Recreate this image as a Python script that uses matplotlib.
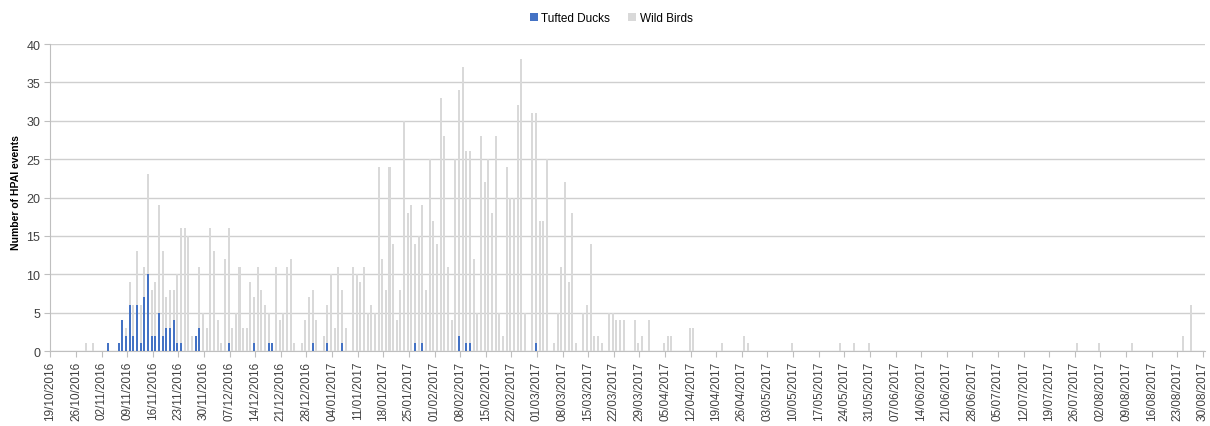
import numpy as np
import pandas as pd
import matplotlib
matplotlib.use("Agg")
from matplotlib import pyplot as plt

# one value per day, starting 19/10/2016, written one week per row
start_date = "2016-10-19"

tufted_ducks = [
    0, 0, 0, 0, 0, 0, 0,
    0, 0, 0, 0, 0, 0, 0,
    0, 0, 1, 0, 0, 1, 4,
    2, 6, 2, 6, 1, 7, 10,
    2, 2, 5, 2, 3, 3, 4,
    1, 1, 0, 0, 0, 2, 3,
    0, 0, 0, 0, 0, 0, 0,
    1, 0, 0, 0, 0, 0, 0,
    1, 0, 0, 0, 1, 1, 0,
    0, 0, 0, 0, 0, 0, 0,
    0, 0, 1, 0, 0, 0, 1,
    0, 0, 0, 1, 0, 0, 0,
    0, 0, 0, 0, 0, 0, 0,
    0, 0, 0, 0, 0, 0, 0,
    0, 0, 1, 0, 1, 0, 0,
    0, 0, 0, 0, 0, 0, 0,
    2, 0, 1, 1, 0, 0, 0,
    0, 0, 0, 0, 0, 0, 0,
    0, 0, 0, 0, 0, 0, 0,
    1, 0, 0, 0, 0, 0, 0,
] + [0] * (25 * 7 + 1)

wild_birds = [
    1, 0, 0, 0, 0, 0, 0,
    0, 0, 0, 1, 0, 1, 0,
    0, 0, 0, 0, 0, 0, 0,
    1, 3, 4, 7, 5, 4, 13,
    6, 7, 14, 11, 4, 5, 4,
    9, 15, 16, 15, 2, 0, 8,
    5, 3, 16, 13, 4, 1, 12,
    15, 3, 5, 11, 3, 3, 9,
    6, 11, 8, 6, 4, 0, 11,
    4, 5, 11, 12, 1, 0, 1,
    4, 7, 7, 4, 0, 2, 5,
    10, 3, 11, 7, 3, 0, 11,
    10, 9, 11, 5, 6, 5, 24,
    12, 8, 24, 14, 4, 8, 30,
    18, 19, 13, 15, 18, 8, 25,
    17, 14, 33, 28, 11, 4, 25,
    32, 37, 25, 25, 12, 5, 28,
    22, 25, 18, 28, 5, 2, 24,
    20, 20, 32, 38, 5, 0, 31,
    30, 17, 17, 25, 0, 1, 5,
    11, 22, 9, 18, 1, 0, 5,
    6, 14, 2, 2, 1, 0, 5,
    5, 4, 4, 4, 0, 0, 4,
    1, 2, 0, 4, 0, 0, 0,
    1, 2, 2, 0, 0, 0, 0,
    3, 3, 0, 0, 0, 0, 0,
    0, 0, 1, 0, 0, 0, 0,
    0, 2, 1, 0, 0, 0, 0,
    0, 0, 0, 0, 0, 0, 0,
    1, 0, 0, 0, 0, 0, 0,
    0, 0, 0, 0, 0, 0, 1,
    0, 0, 0, 1, 0, 0, 0,
    1, 0, 0, 0, 0, 0, 0,
    0, 0, 0, 0, 0, 0, 0,
    0, 0, 0, 0, 0, 0, 0,
    0, 0, 0, 0, 0, 0, 0,
    0, 0, 0, 0, 0, 0, 0,
    0, 0, 0, 0, 0, 0, 0,
    0, 0, 0, 0, 0, 0, 0,
    0, 0, 0, 0, 0, 0, 0,
    0, 1, 0, 0, 0, 0, 0,
    1, 0, 0, 0, 0, 0, 0,
    0, 0, 1, 0, 0, 0, 0,
    0, 0, 0, 0, 0, 0, 0,
    0, 0, 2, 0, 6, 0, 0,
    0,
]

dates = pd.date_range(start_date, periods=len(wild_birds), freq="D")
tick_dates = dates[::7]
tick_labels = [d.strftime("%d/%m/%Y") for d in tick_dates]

BLUE = "#4472C4"
GREY = "#D9D9D9"
GRID = "#CFCFCF"
TEXT = "#404040"

fig = plt.figure(figsize=(12.1, 4.27), dpi=100)
ax = fig.add_axes([0.0413, 0.1756, 0.9546, 0.7190])

x = np.arange(len(dates))
ducks = np.array(tufted_ducks)
wild = np.array(wild_birds)

ax.bar(x - 0.3, ducks, width=0.55, color=BLUE, label="Tufted Ducks", zorder=3)
ax.bar(x - 0.3, wild, bottom=ducks, width=0.55, color=GREY, label="Wild Birds",
       zorder=3)

ax.set_xlim(-0.1, len(dates) - 0.4)
ax.set_ylim(0, 40)
ax.set_yticks(np.arange(0, 41, 5))
ax.yaxis.grid(True, color=GRID, linewidth=1, zorder=0)
ax.set_axisbelow(True)

ax.set_xticks(x[::7])
ax.set_xticklabels(tick_labels, rotation=90, fontsize=8.5,
                   family="Liberation Sans", color=TEXT)
for lbl in ax.get_yticklabels():
    lbl.set_fontsize(9)
    lbl.set_family("Liberation Sans")
    lbl.set_color(TEXT)

ax.tick_params(axis="x", length=4, color="#BFBFBF", pad=3)
ax.tick_params(axis="y", length=4, color="#BFBFBF", pad=3)

for side in ["top", "right"]:
    ax.spines[side].set_visible(False)
for side in ["left", "bottom"]:
    ax.spines[side].set_color("#BFBFBF")

ax.set_ylabel("Number of HPAI events", fontsize=7.5, fontweight="bold",
              family="Liberation Sans")
ax.yaxis.set_label_coords(-0.025, 0.52)

fig.legend(loc="center", bbox_to_anchor=(0.505, 0.955), ncol=2,
           frameon=False, handlelength=0.7, handleheight=0.7,
           columnspacing=1.5, handletextpad=0.3,
           prop={"family": "Liberation Sans", "size": 8.5})

fig.savefig("out.png", dpi=100)
